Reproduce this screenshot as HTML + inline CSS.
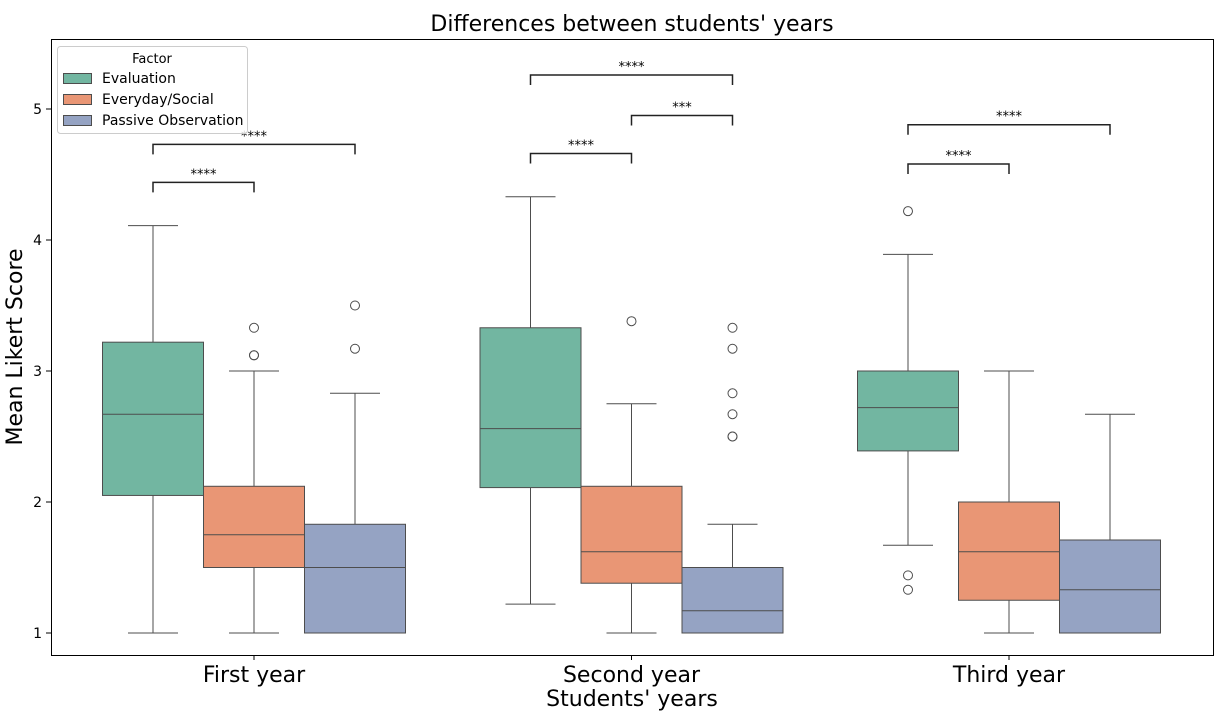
<!DOCTYPE html>
<html><head><meta charset="utf-8"><style>
body{margin:0;background:#fff;}
svg{display:block;font-family:"DejaVu Sans","Liberation Sans",sans-serif;}
</style></head><body>
<svg id="chart" width="1220" height="716" viewBox="0 0 1220 716">
<text x="632" y="31" text-anchor="middle" font-size="22" fill="#000">Differences between students' years</text>
<rect x="51.5" y="39.5" width="1162" height="616" fill="none" stroke="#000" stroke-width="1"/>
<g id="marks"></g>
<g id="axes"></g>
<text x="22" y="347" transform="rotate(-90 22 347)" text-anchor="middle" font-size="22">Mean Likert Score</text>
<text x="632" y="706" text-anchor="middle" font-size="22">Students' years</text>
<g>
<rect x="57.5" y="46.5" width="190" height="87" rx="3" fill="#fff" fill-opacity="0.8" stroke="#ccc"/>
<text x="152" y="63" text-anchor="middle" font-size="13">Factor</text>
<g><rect x="63.5" y="73.5" width="28" height="10" fill="#72b6a1" stroke="#4d4d4d"/><text x="102" y="83" font-size="14">Evaluation</text></g>
<g><rect x="63.5" y="94.5" width="28" height="10" fill="#e99675" stroke="#4d4d4d"/><text x="102" y="104" font-size="14">Everyday/Social</text></g>
<g><rect x="63.5" y="115.5" width="28" height="10" fill="#95a3c3" stroke="#4d4d4d"/><text x="102" y="125" font-size="14">Passive Observation</text></g>
</g>
</svg>
<script>
const categories=["First year","Second year","Third year"];
const factors=["Evaluation","Everyday/Social","Passive Observation"];
const colors=["#72b6a1","#e99675","#95a3c3"];
const evaluationStats=[[1,2.05,2.67,3.22,4.11],[1.22,2.11,2.56,3.33,4.33],[1.67,2.39,2.72,3.0,3.89]];
const everydayStats=[[1,1.5,1.75,2.12,3.0],[1,1.38,1.62,2.12,2.75],[1,1.25,1.62,2.0,3.0]];
const passiveStats=[[1,1,1.5,1.83,2.83],[1,1,1.17,1.5,1.83],[1,1,1.33,1.71,2.67]];
const evaluationOutliers=[[],[],[4.22,1.44,1.33]];
const everydayOutliers=[[3.33,3.12,3.12],[3.38],[]];
const passiveOutliers=[[3.5,3.17],[3.33,3.17,2.83,2.67,2.5,2.5],[]];
const yTicks=[1,2,3,4,5];
const annotations=[[0,0,1,4.44,"****"],[0,0,2,4.73,"****"],[1,0,1,4.66,"****"],[1,1,2,4.95,"***"],[1,0,2,5.26,"****"],[2,0,1,4.58,"****"],[2,0,2,4.88,"****"]];

const NS="http://www.w3.org/2000/svg";
const y=v=>633-(v-1)*131;
const xc=i=>254+i*377.5;
const bw=101;
const xf=(i,f)=>xc(i)+(f-1)*bw;
const marks=document.getElementById("marks"),axes=document.getElementById("axes");
function mk(tag,attrs,parent){const e=document.createElementNS(NS,tag);for(const k in attrs)e.setAttribute(k,attrs[k]);parent.appendChild(e);return e;}
const stats=[evaluationStats,everydayStats,passiveStats];
const outs=[evaluationOutliers,everydayOutliers,passiveOutliers];
const LC="#4d4d4d";
categories.forEach((c,i)=>{
  stats.forEach((S,f)=>{
    const s=S[i],cx=xf(i,f);
    const g=mk("g",{},marks);
    
    
    mk("line",{x1:cx,x2:cx,y1:y(s[0]),y2:y(s[1]),stroke:LC},g);
    mk("line",{x1:cx,x2:cx,y1:y(s[3]),y2:y(s[4]),stroke:LC},g);
    mk("line",{x1:cx-25,x2:cx+25,y1:y(s[0]),y2:y(s[0]),stroke:LC},g);
    mk("line",{x1:cx-25,x2:cx+25,y1:y(s[4]),y2:y(s[4]),stroke:LC},g);
    mk("rect",{x:cx-bw/2,y:y(s[3]),width:bw,height:Math.max(0,y(s[1])-y(s[3])),fill:colors[f],stroke:LC},g);
    mk("line",{x1:cx-bw/2,x2:cx+bw/2,y1:y(s[2]),y2:y(s[2]),stroke:LC},g);
    outs[f][i].forEach(o=>{mk("circle",{cx:cx,cy:y(o),r:4.5,fill:"none",stroke:LC},g);});
  });
  const t=mk("text",{x:xc(i),y:682,"text-anchor":"middle","font-size":22},axes);
  t.textContent=c;
  
  
  mk("line",{x1:xc(i),x2:xc(i),y1:655,y2:660,stroke:"#000"},axes);
});
yTicks.forEach(v=>{
  mk("line",{x1:46,x2:51,y1:y(v),y2:y(v),stroke:"#000"},axes);
  const t=mk("text",{x:42,y:y(v)+5,"text-anchor":"end","font-size":14},axes);
  t.textContent=v;
  
  
});
annotations.forEach(a=>{
  const x1=xf(a[0],a[1]),x2=xf(a[0],a[2]),yy=y(a[3]);
  const g=mk("g",{},marks);
  
  
  mk("polyline",{points:`${x1},${yy+10} ${x1},${yy} ${x2},${yy} ${x2},${yy+10}`,fill:"none",stroke:"#222","stroke-width":1.5},g);
  const t=mk("text",{x:(x1+x2)/2,y:yy-4,"text-anchor":"middle","font-size":13},g);
  t.textContent=a[4];
});
</script>
</body></html>
